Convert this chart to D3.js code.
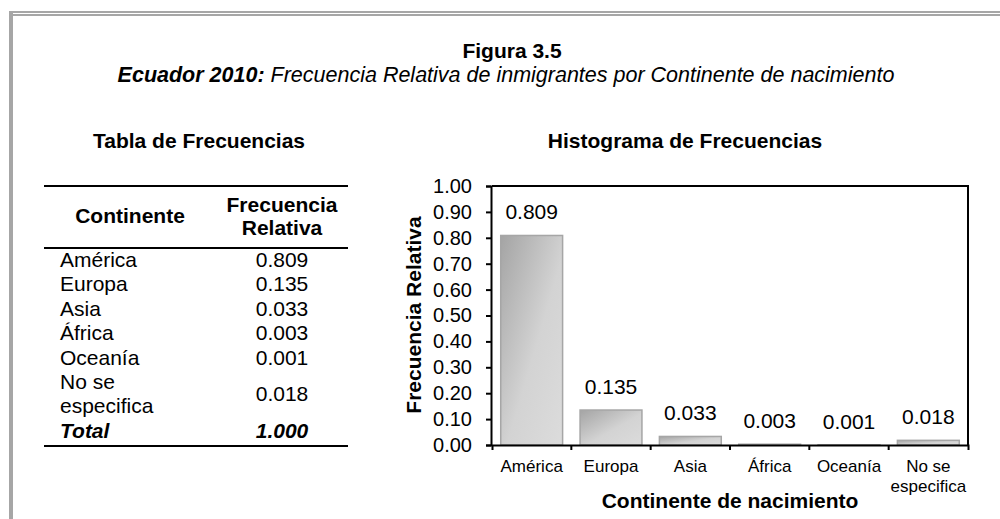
<!DOCTYPE html>
<html>
<head>
<meta charset="utf-8">
<script src="https://cdnjs.cloudflare.com/ajax/libs/d3/7.8.5/d3.min.js"></script>
<style>
  body { margin: 0; background: #fff; }
  svg { display: block; font-family: "Liberation Sans", Arial, sans-serif; }
  .axis path, .axis line { stroke: #000; stroke-width: 2; }
  .axis text { fill: #000; }
</style>
</head>
<body>
<script>
// data
var categories = ["América", "Europa", "Asia", "África", "Oceanía", "No se especifica"];
var values = [0.809, 0.135, 0.033, 0.003, 0.001, 0.018];
var totalLabel = "Total";
var totalValue = "1.000";
var yTicks = [0.00, 0.10, 0.20, 0.30, 0.40, 0.50, 0.60, 0.70, 0.80, 0.90, 1.00];

var width = 1000, height = 519;
var plot = {left: 492, right: 968, top: 186, bottom: 445};

var svg = d3.select("body").append("svg")
    .attr("width", width)
    .attr("height", height);

// split long labels on the last space
function wrap(s) {
  if (s.indexOf(" ") < 0 || s.length < 11) return [s];
  var i = s.lastIndexOf(" ");
  return [s.slice(0, i), s.slice(i + 1)];
}

//Frame
svg.append("rect").attr("x", 9).attr("y", 11).attr("width", 4).attr("height", height - 11).attr("fill", "#a6a6a6");
svg.append("rect").attr("x", 9).attr("y", 11).attr("width", width - 9).attr("height", 2).attr("fill", "#a6a6a6");
svg.append("rect").attr("x", 13).attr("y", 14).attr("width", width - 13).attr("height", 2).attr("fill", "#a6a6a6");

//Titles
svg.append("text")
    .attr("x", 512).attr("y", 58)
    .attr("text-anchor", "middle")
    .style("font-size", "21px").style("font-weight", "bold")
    .text("Figura 3.5");

var sub = svg.append("text")
    .attr("x", 506).attr("y", 82)
    .attr("text-anchor", "middle")
    .style("font-size", "21.5px").style("font-style", "italic");
sub.append("tspan").style("font-weight", "bold").text("Ecuador 2010:");
sub.append("tspan").text(" Frecuencia Relativa de inmigrantes por Continente de nacimiento");

svg.append("text")
    .attr("x", 199).attr("y", 148)
    .attr("text-anchor", "middle")
    .style("font-size", "21px").style("font-weight", "bold")
    .text("Tabla de Frecuencias");

svg.append("text")
    .attr("x", 685).attr("y", 148)
    .attr("text-anchor", "middle")
    .style("font-size", "21px").style("font-weight", "bold")
    .text("Histograma de Frecuencias");

//Table
var table = svg.append("g");
[186, 248, 446].forEach(function(y) {
  table.append("line")
      .attr("x1", 44).attr("x2", 348)
      .attr("y1", y).attr("y2", y)
      .attr("stroke", "#000").attr("stroke-width", 2);
});

table.append("text")
    .attr("x", 130).attr("y", 223)
    .attr("text-anchor", "middle")
    .style("font-size", "21px").style("font-weight", "bold")
    .text("Continente");
table.append("text")
    .attr("x", 282).attr("y", 212)
    .attr("text-anchor", "middle")
    .style("font-size", "21px").style("font-weight", "bold")
    .text("Frecuencia");
table.append("text")
    .attr("x", 282).attr("y", 235)
    .attr("text-anchor", "middle")
    .style("font-size", "21px").style("font-weight", "bold")
    .text("Relativa");

var lineStep = 24.4;
var rowY = 267;
categories.forEach(function(c, i) {
  var lines = wrap(c);
  lines.forEach(function(l, j) {
    table.append("text")
        .attr("x", 60).attr("y", rowY + j * lineStep)
        .style("font-size", "21px")
        .text(l);
  });
  table.append("text")
      .attr("x", 282).attr("y", rowY + (lines.length - 1) * lineStep / 2)
      .attr("text-anchor", "middle")
      .style("font-size", "21px")
      .text(d3.format(".3f")(values[i]));
  rowY += lines.length * lineStep;
});
table.append("text")
    .attr("x", 60).attr("y", rowY)
    .style("font-size", "21px").style("font-weight", "bold").style("font-style", "italic")
    .text(totalLabel);
table.append("text")
    .attr("x", 282).attr("y", rowY)
    .attr("text-anchor", "middle")
    .style("font-size", "21px").style("font-weight", "bold").style("font-style", "italic")
    .text(totalValue);

//Scales
var x = d3.scaleBand()
    .domain(categories)
    .range([plot.left, plot.right])
    .paddingInner(0.22)
    .paddingOuter(0.11);

var y = d3.scaleLinear()
    .domain([0, 1])
    .range([plot.bottom, plot.top]);

//Gradient for bars
var grad = svg.append("defs").append("linearGradient")
    .attr("id", "barGrad")
    .attr("x1", 0).attr("y1", 0).attr("x2", 1).attr("y2", 1);
grad.append("stop").attr("offset", "0%").attr("stop-color", "#a4a4a4");
grad.append("stop").attr("offset", "55%").attr("stop-color", "#d3d3d3");
grad.append("stop").attr("offset", "100%").attr("stop-color", "#dcdcdc");

//Frame of the plot
svg.append("path")
    .attr("d", "M" + plot.left + "," + plot.top + "H" + plot.right + "V" + plot.bottom)
    .attr("fill", "none")
    .attr("stroke", "#000")
    .attr("stroke-width", 2);

//Bars
svg.selectAll(".bar")
    .data(values)
    .enter().append("rect")
    .attr("class", "bar")
    .attr("x", function(d, i) { return x(categories[i]); })
    .attr("y", function(d) { return y(d); })
    .attr("width", x.bandwidth())
    .attr("height", function(d) { return y(0) - y(d); })
    .attr("fill", "url(#barGrad)")
    .attr("stroke", "#a6a6a6")
    .attr("stroke-width", 1.5);

//Bar labels
svg.selectAll(".barLabel")
    .data(values)
    .enter().append("text")
    .attr("class", "barLabel")
    .attr("x", function(d, i) { return x(categories[i]) + x.bandwidth() / 2; })
    .attr("y", function(d) { return Math.min(y(d) - 16, y(0) - 16); })
    .attr("text-anchor", "middle")
    .style("font-size", "21px")
    .text(function(d) { return d3.format(".3f")(d); });

//Y axis
var yAxis = d3.axisLeft(y)
    .tickValues(yTicks)
    .tickFormat(d3.format(".2f"))
    .tickSize(5)
    .tickPadding(14);

svg.append("g")
    .attr("class", "axis")
    .attr("transform", "translate(" + (plot.left - 1) + ",0)")
    .call(yAxis)
    .selectAll("text")
    .style("font-size", "20px")
    .style("font-family", "'Liberation Sans', Arial, sans-serif");

//X axis
var xAxis = d3.axisBottom(x)
    .tickSize(0)
    .tickSizeOuter(5)
    .tickPadding(15);

var gx = svg.append("g")
    .attr("class", "axis")
    .attr("transform", "translate(0," + plot.bottom + ")")
    .call(xAxis);

gx.selectAll(".tick text")
    .style("font-size", "17px")
    .style("font-family", "'Liberation Sans', Arial, sans-serif")
    .each(function(d) {
      var t = d3.select(this);
      var lines = wrap(d);
      t.text(null);
      lines.forEach(function(l, j) {
        t.append("tspan")
            .attr("x", 0)
            .attr("dy", j == 0 ? "0.71em" : "20px")
            .text(l);
      });
    });

//Boundary ticks between categories
gx.selectAll(".sep")
    .data(categories.slice(1))
    .enter().append("line")
    .attr("class", "sep")
    .attr("x1", function(d) { return x(d) - x.step() * x.paddingInner() / 2; })
    .attr("x2", function(d) { return x(d) - x.step() * x.paddingInner() / 2; })
    .attr("y1", 0)
    .attr("y2", 5);

//Axis titles
svg.append("text")
    .attr("transform", "translate(421,315) rotate(-90)")
    .attr("text-anchor", "middle")
    .style("font-size", "21px").style("font-weight", "bold")
    .text("Frecuencia Relativa");

svg.append("text")
    .attr("x", (plot.left + plot.right) / 2).attr("y", 508)
    .attr("text-anchor", "middle")
    .style("font-size", "21px").style("font-weight", "bold")
    .text("Continente de nacimiento");
</script>
</body>
</html>
